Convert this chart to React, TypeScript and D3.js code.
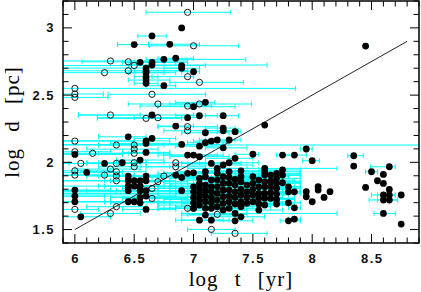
import * as d3 from 'd3';

// [log t, log d, minus err, plus err]
type Pt = [number, number, number, number];

const filledPts: Pt[] = [
  [6.90, 3.000, 0, 0], [6.65, 2.940, 0.12, 0.12], [6.50, 2.876, 0.14, 0.12], [6.80, 2.878, 0.18, 0.25],
  [8.45, 2.865, 0.02, 0.02], [6.55, 2.744, 0.15, 0.3], [6.65, 2.744, 0.15, 0.3], [6.65, 2.724, 0.2, 0.97],
  [6.75, 2.766, 0.15, 0.69], [6.85, 2.774, 0.15, 0.15], [6.90, 2.720, 1.1, 0.2], [6.90, 2.700, 0.15, 0.15],
  [7.00, 2.674, 0.1, 0.05], [6.60, 2.701, 0.8, 0.3], [6.60, 2.681, 0.1, 0.35], [6.60, 2.667, 0.15, 0.15],
  [6.60, 2.637, 0.1, 0.1], [6.60, 2.612, 0.15, 0.2], [6.60, 2.588, 0.1, 0.1], [6.75, 2.570, 0.15, 0.1],
  [7.10, 2.446, 0.25, 0.08], [7.00, 2.414, 0.3, 0.35], [6.65, 2.352, 0.62, 0.35], [6.95, 2.332, 0.76, 0.1],
  [7.05, 2.347, 0.2, 0.15], [7.25, 2.347, 0.15, 0.13], [6.85, 2.270, 0.15, 0.15], [7.10, 2.220, 0.2, 0.2],
  [7.60, 2.277, 0, 0], [7.25, 2.255, 0.15, 0.1], [7.25, 2.235, 0.15, 0.13], [7.35, 2.228, 0.15, 0.05],
  [6.45, 2.190, 0.25, 0.15], [6.60, 2.160, 0.8, 0.2], [6.60, 2.141, 0.3, 0.3], [6.65, 2.178, 0.15, 0.2],
  [6.90, 2.133, 1.1, 0.35], [7.05, 2.120, 0.2, 0.2], [7.10, 2.146, 0.15, 0.2], [7.15, 2.158, 0.15, 0.15],
  [7.20, 2.166, 0.15, 0.15], [7.30, 2.166, 0.2, 0.1], [7.25, 2.108, 0.15, 0.2], [7.95, 2.099, 0.05, 0.05],
  [6.60, 2.074, 0.2, 0.2], [6.00, 2.059, 0.2, 0.4], [6.55, 2.017, 0.2, 0.2], [6.25, 1.992, 0.3, 0.25],
  [6.40, 1.997, 0.3, 0.2], [6.10, 1.925, 0.3, 0.3], [6.45, 1.898, 0.25, 0.25], [6.45, 1.863, 0.65, 0.25],
  [6.45, 1.823, 0.25, 0.3], [6.45, 1.789, 0.35, 0.25], [6.50, 1.863, 0.25, 0.25], [6.50, 1.823, 0.7, 0.3],
  [6.55, 1.863, 0.25, 0.25], [6.55, 1.823, 0.3, 0.3], [6.55, 1.789, 0.75, 0.25], [6.60, 1.898, 0.25, 0.3],
  [6.60, 1.863, 0.3, 0.25], [6.60, 1.789, 0.25, 0.25], [6.60, 1.749, 0.8, 0.25], [6.55, 1.739, 0.25, 0.25],
  [6.50, 1.707, 0.25, 0.25], [6.45, 1.707, 0.65, 0.25], [6.00, 1.794, 0.2, 0.3], [6.00, 1.749, 0.2, 0.25],
  [6.00, 1.707, 0.2, 0.3], [6.55, 1.699, 0.25, 0.25], [6.60, 1.650, 0.2, 0.25], [6.05, 1.595, 0.2, 0.25],
  [6.95, 2.054, 0.25, 0.25], [7.00, 2.054, 0.25, 0.25], [7.05, 2.042, 0.25, 0.25], [7.50, 2.060, 0.15, 0.05],
  [7.15, 1.992, 0.25, 0.25], [7.30, 1.997, 0.25, 0.25], [7.25, 1.980, 0.3, 0.25], [7.35, 2.030, 0.25, 0.15],
  [7.20, 1.955, 0.25, 0.25], [7.20, 1.918, 0.3, 0.3], [6.85, 1.905, 0.25, 0.25], [6.90, 1.888, 0.3, 0.25],
  [6.95, 1.918, 0.25, 0.25], [7.00, 1.922, 0.25, 0.25], [7.10, 1.930, 0.25, 0.25], [7.10, 1.893, 0.25, 0.25],
  [7.05, 1.881, 0.25, 0.25], [7.15, 1.868, 0.25, 0.25], [6.90, 1.789, 1.1, 0.25],
  // main clump
  [7.00, 1.818, 0.3, 0.25], [7.00, 1.781, 1.1, 0.3], [7.00, 1.739, 0.35, 0.25], [7.00, 1.699, 0.3, 0.3], [7.00, 1.658, 0.3, 0.2],
  [7.05, 1.844, 0.3, 0.3], [7.05, 1.806, 0.35, 0.25], [7.05, 1.764, 1.2, 0.3], [7.05, 1.724, 0.3, 0.25], [7.05, 1.682, 0.35, 0.3], [7.05, 1.570, 0.2, 0.2],
  [7.10, 1.831, 0.3, 0.3], [7.10, 1.789, 0.3, 0.25], [7.10, 1.749, 0.4, 0.3], [7.10, 1.707, 1.2, 0.25], [7.10, 1.658, 0.3, 0.3], [7.10, 1.608, 0.2, 0.25],
  [7.15, 1.818, 0.35, 0.3], [7.15, 1.781, 0.3, 0.3], [7.15, 1.739, 0.3, 0.3], [7.15, 1.699, 0.35, 0.3], [7.15, 1.658, 0.3, 0.25], [7.15, 1.570, 0.25, 0.15],
  [7.20, 1.868, 0.3, 0.3], [7.20, 1.818, 0.3, 0.3], [7.20, 1.769, 1.3, 0.3], [7.20, 1.719, 0.3, 0.3], [7.20, 1.670, 0.35, 0.3],
  [7.25, 1.893, 0.3, 0.3], [7.25, 1.843, 0.3, 0.3], [7.25, 1.793, 0.3, 0.25], [7.25, 1.744, 0.3, 0.3], [7.25, 1.694, 0.35, 0.3], [7.25, 1.645, 0.3, 0.2],
  [7.30, 1.930, 0.3, 0.3], [7.30, 1.888, 0.3, 0.3], [7.30, 1.844, 0.3, 0.3], [7.30, 1.794, 0.3, 0.3], [7.30, 1.749, 0.3, 0.3], [7.30, 1.707, 0.3, 0.3], [7.30, 1.658, 0.3, 0.25],
  [7.35, 1.873, 0.3, 0.3], [7.35, 1.831, 0.3, 0.3], [7.35, 1.781, 0.3, 0.3], [7.35, 1.739, 0.3, 0.3], [7.35, 1.690, 0.3, 0.3], [7.35, 1.620, 0.45, 0.86], [7.35, 1.565, 0.2, 0.15],
  [7.40, 1.937, 0.3, 0.3], [7.40, 1.893, 0.3, 0.3], [7.40, 1.855, 0.3, 0.3], [7.40, 1.799, 0.3, 0.3], [7.40, 1.757, 0.3, 0.3], [7.40, 1.707, 0.3, 0.3], [7.40, 1.670, 0.3, 0.25], [7.40, 1.595, 0.25, 0.2],
  [7.45, 1.831, 0.3, 0.3], [7.45, 1.781, 0.3, 0.3], [7.45, 1.739, 0.3, 0.3], [7.45, 1.695, 0.3, 0.3],
  [7.50, 1.893, 0.3, 0.3], [7.50, 1.844, 0.3, 0.3], [7.50, 1.799, 0.3, 0.3], [7.50, 1.757, 0.3, 0.3], [7.50, 1.707, 0.3, 0.3],
  [7.55, 1.868, 0.3, 0.3], [7.55, 1.818, 0.3, 0.3], [7.55, 1.769, 0.3, 0.25], [7.55, 1.732, 0.3, 0.3], [7.55, 1.690, 0.3, 0.25], [7.55, 1.645, 0.3, 0.2],
  [7.60, 1.955, 0.5, 0.61], [7.60, 1.930, 0.3, 0.3], [7.60, 1.905, 0.3, 0.3], [7.60, 1.855, 0.3, 0.3], [7.60, 1.818, 0.3, 0.3], [7.60, 1.769, 0.3, 0.3], [7.60, 1.732, 0.3, 0.25], [7.60, 1.682, 0.3, 0.2],
  [7.65, 1.905, 0.3, 0.25], [7.65, 1.860, 0.3, 0.25], [7.65, 1.818, 0.3, 0.25], [7.65, 1.774, 0.3, 0.2], [7.65, 1.732, 0.3, 0.2],
  [7.70, 1.918, 0.3, 0.2], [7.70, 1.881, 0.3, 0.2], [7.70, 1.844, 0.3, 0.2], [7.70, 1.806, 0.3, 0.2], [7.70, 1.764, 0.3, 0.15], [7.70, 1.724, 0.3, 0.15], [7.70, 1.690, 0.3, 0.15],
  [7.75, 2.054, 0.05, 0.1], [7.75, 1.943, 0.2, 0.15], [7.75, 1.905, 0.2, 0.15], [7.75, 1.848, 0.15, 0.15],
  [7.80, 1.818, 0.1, 0.1], [7.80, 1.781, 0.1, 0.1], [7.80, 1.699, 0.1, 0.1], [7.80, 1.565, 0.07, 0.1],
  [7.85, 2.054, 0.1, 0.1], [7.85, 1.781, 0.05, 0.05], [7.85, 1.662, 0.05, 0.05], [7.85, 1.578, 0.05, 0.05],
  [7.95, 1.782, 0, 0], [7.95, 1.744, 0, 0], [8.00, 2.012, 0.08, 0.06], [8.00, 1.707, 0, 0],
  [8.05, 1.820, 0, 0], [8.05, 1.794, 0, 0], [8.10, 1.739, 0, 0], [8.15, 1.782, 0, 0],
  [8.35, 2.049, 0.05, 0.08], [8.35, 1.972, 0, 0], [8.45, 1.813, 0, 0], [8.50, 1.930, 0.05, 0.05],
  [8.55, 1.863, 0, 0], [8.60, 1.910, 0, 0], [8.60, 1.843, 0, 0], [8.60, 1.757, 0.1, 0.1],
  [8.60, 1.720, 0.12, 0.12], [8.60, 1.620, 0.08, 0.1], [8.65, 1.967, 0.16, 0.05], [8.65, 1.798, 0, 0],
  [8.65, 1.757, 0.1, 0.05], [8.65, 1.720, 0.1, 0.07], [8.75, 1.757, 0, 0], [8.75, 1.541, 0, 0],
];

const openPts: Pt[] = [
  [6.95, 3.116, 0.35, 0.36], [7.00, 2.867, 0.37, 0.38], [6.30, 2.754, 0.6, 0.65], [6.45, 2.748, 0.39, 0.3],
  [6.50, 2.720, 0.7, 0.4], [6.25, 2.667, 0.5, 0.6], [6.45, 2.681, 0.6, 0.5], [6.95, 2.637, 0.3, 0.05],
  [7.05, 2.595, 0.25, 0.37], [6.00, 2.550, 0.2, 1.86], [6.00, 2.508, 0.2, 0.24], [6.00, 2.483, 0.2, 0.28],
  [6.65, 2.506, 0.37, 0.45], [6.70, 2.434, 0.25, 0.4], [6.95, 2.419, 0.4, 0.2], [7.05, 2.434, 0.25, 0.44],
  [6.30, 2.352, 0.27, 0.25], [6.60, 2.327, 0.41, 0.3], [6.70, 2.332, 0.2, 0.25], [6.95, 2.265, 0.25, 0.25],
  [6.95, 2.235, 0.2, 0.3], [6.00, 2.158, 0.2, 0.5], [6.35, 2.129, 0.6, 2.6], [6.50, 2.129, 0.3, 0.25],
  [6.50, 2.098, 0.4, 0.2], [6.50, 2.067, 0.3, 0.3], [6.00, 2.079, 0.2, 0.3], [6.15, 2.067, 0.25, 0.3],
  [6.05, 1.992, 0.2, 0.3], [6.35, 1.992, 0.25, 0.2], [6.50, 1.997, 0.3, 0.25], [6.50, 1.967, 0.3, 0.3],
  [6.30, 1.950, 0.3, 0.25], [6.35, 1.930, 0.3, 0.25], [6.35, 1.898, 0.25, 0.25], [6.35, 1.863, 0.6, 0.3],
  [6.00, 1.937, 0.2, 0.3], [6.00, 1.905, 0.2, 0.25], [6.25, 1.905, 0.35, 0.25], [6.75, 1.898, 0.25, 0.25],
  [6.70, 1.856, 0.25, 0.25], [6.65, 1.806, 0.25, 0.25], [6.65, 1.732, 0.25, 0.3], [6.00, 1.650, 0.2, 0.2],
  [6.35, 1.670, 0.25, 0.25], [6.30, 1.620, 0.25, 0.25], [6.85, 1.997, 0.25, 0.25], [6.85, 1.967, 0.25, 0.25],
  [6.95, 1.658, 0.25, 0.25], [7.00, 1.658, 0.25, 0.25], [7.20, 1.613, 0.25, 0.25], [7.15, 1.501, 0.2, 0.2],
  [7.35, 1.472, 0.2, 0.27],
];

const fitLine: [number, number][] = [[6.0, 1.5], [8.8, 2.9]];
const xTickLabels = [6, 6.5, 7, 7.5, 8, 8.5];
const yTickLabels = [1.5, 2, 2.5, 3];

export default function App() {
  const left = 63, right = 419, top = 1, bottom = 243;
  const x = d3.scaleLinear().domain([5.9, 8.9]).range([left, right]);
  const y = d3.scaleLinear().domain([1.4, 3.2]).range([bottom, top]);
  const xMinor = d3.range(59, 90).map(v => v / 10);
  const yMinor = d3.range(14, 33).map(v => v / 10);
  const isMajor = (v: number) => Math.abs(v * 2 - Math.round(v * 2)) < 1e-6;
  const line = d3.line<[number, number]>().x(d => x(d[0])).y(d => y(d[1]));
  const allPts = [...filledPts, ...openPts];
  const cap = 2.5;
  const tickFont = { fontFamily: '"Liberation Sans", Arial, sans-serif', fontSize: 13, fontWeight: 'bold' as const, letterSpacing: 1.5 };
  const titleFont = { fontFamily: '"Liberation Serif", "Times New Roman", serif', fontSize: 21, letterSpacing: 1, wordSpacing: 10 };

  return (
    <svg width={421} height={292} style={{ position: 'absolute', left: 0, top: 0, background: '#fff' }}>
      <defs>
        <clipPath id="plotArea">
          <rect x={left} y={top} width={right - left} height={bottom - top} />
        </clipPath>
      </defs>
      <g clipPath="url(#plotArea)" stroke="#00ffff" strokeWidth={1} fill="none">
        {allPts.filter(p => p[2] > 0 || p[3] > 0).map((p, i) => {
          const x1 = x(p[0] - p[2]), x2 = x(p[0] + p[3]), yy = y(p[1]);
          return (
            <path key={i} d={`M${x1},${yy}H${x2}M${x1},${yy - cap}V${yy + cap}M${x2},${yy - cap}V${yy + cap}`} />
          );
        })}
      </g>
      <g clipPath="url(#plotArea)">
        <path d={line(fitLine) ?? ''} stroke="#222" strokeWidth={1} fill="none" />
        {openPts.map((p, i) => (
          <circle key={'o' + i} cx={x(p[0])} cy={y(p[1])} r={3.1} fill="none" stroke="#000" strokeWidth={0.9} />
        ))}
        {filledPts.map((p, i) => (
          <circle key={'f' + i} cx={x(p[0])} cy={y(p[1])} r={3.4} fill="#000" />
        ))}
      </g>
      <g stroke="#000" strokeWidth={1}>
        {xMinor.map(v => {
          const len = isMajor(v) ? 9 : 5.5;
          return (
            <g key={'xt' + v}>
              <line x1={x(v)} x2={x(v)} y1={bottom} y2={bottom - len} />
              <line x1={x(v)} x2={x(v)} y1={top} y2={top + len} />
            </g>
          );
        })}
        {yMinor.map(v => {
          const len = isMajor(v) ? 9 : 5.5;
          return (
            <g key={'yt' + v}>
              <line x1={left} x2={left + len} y1={y(v)} y2={y(v)} />
              <line x1={right} x2={right - len} y1={y(v)} y2={y(v)} />
            </g>
          );
        })}
      </g>
      <rect x={left} y={top} width={right - left} height={bottom - top} fill="none" stroke="#000" strokeWidth={1.5} />
      {xTickLabels.map(v => (
        <text key={'xl' + v} x={x(v) + 0.75} y={263} textAnchor="middle" {...tickFont} fill="#111">{v}</text>
      ))}
      {yTickLabels.map(v => (
        <text key={'yl' + v} x={55} y={y(v) + 4.5} textAnchor="end" {...tickFont} fill="#111">{v}</text>
      ))}
      <text x={(left + right) / 2} y={286} textAnchor="middle" {...titleFont} fill="#000">log t [yr]</text>
      <text transform={`translate(19,${(top + bottom) / 2}) rotate(-90)`} textAnchor="middle" {...titleFont} fill="#000">log d [pc]</text>
    </svg>
  );
}
